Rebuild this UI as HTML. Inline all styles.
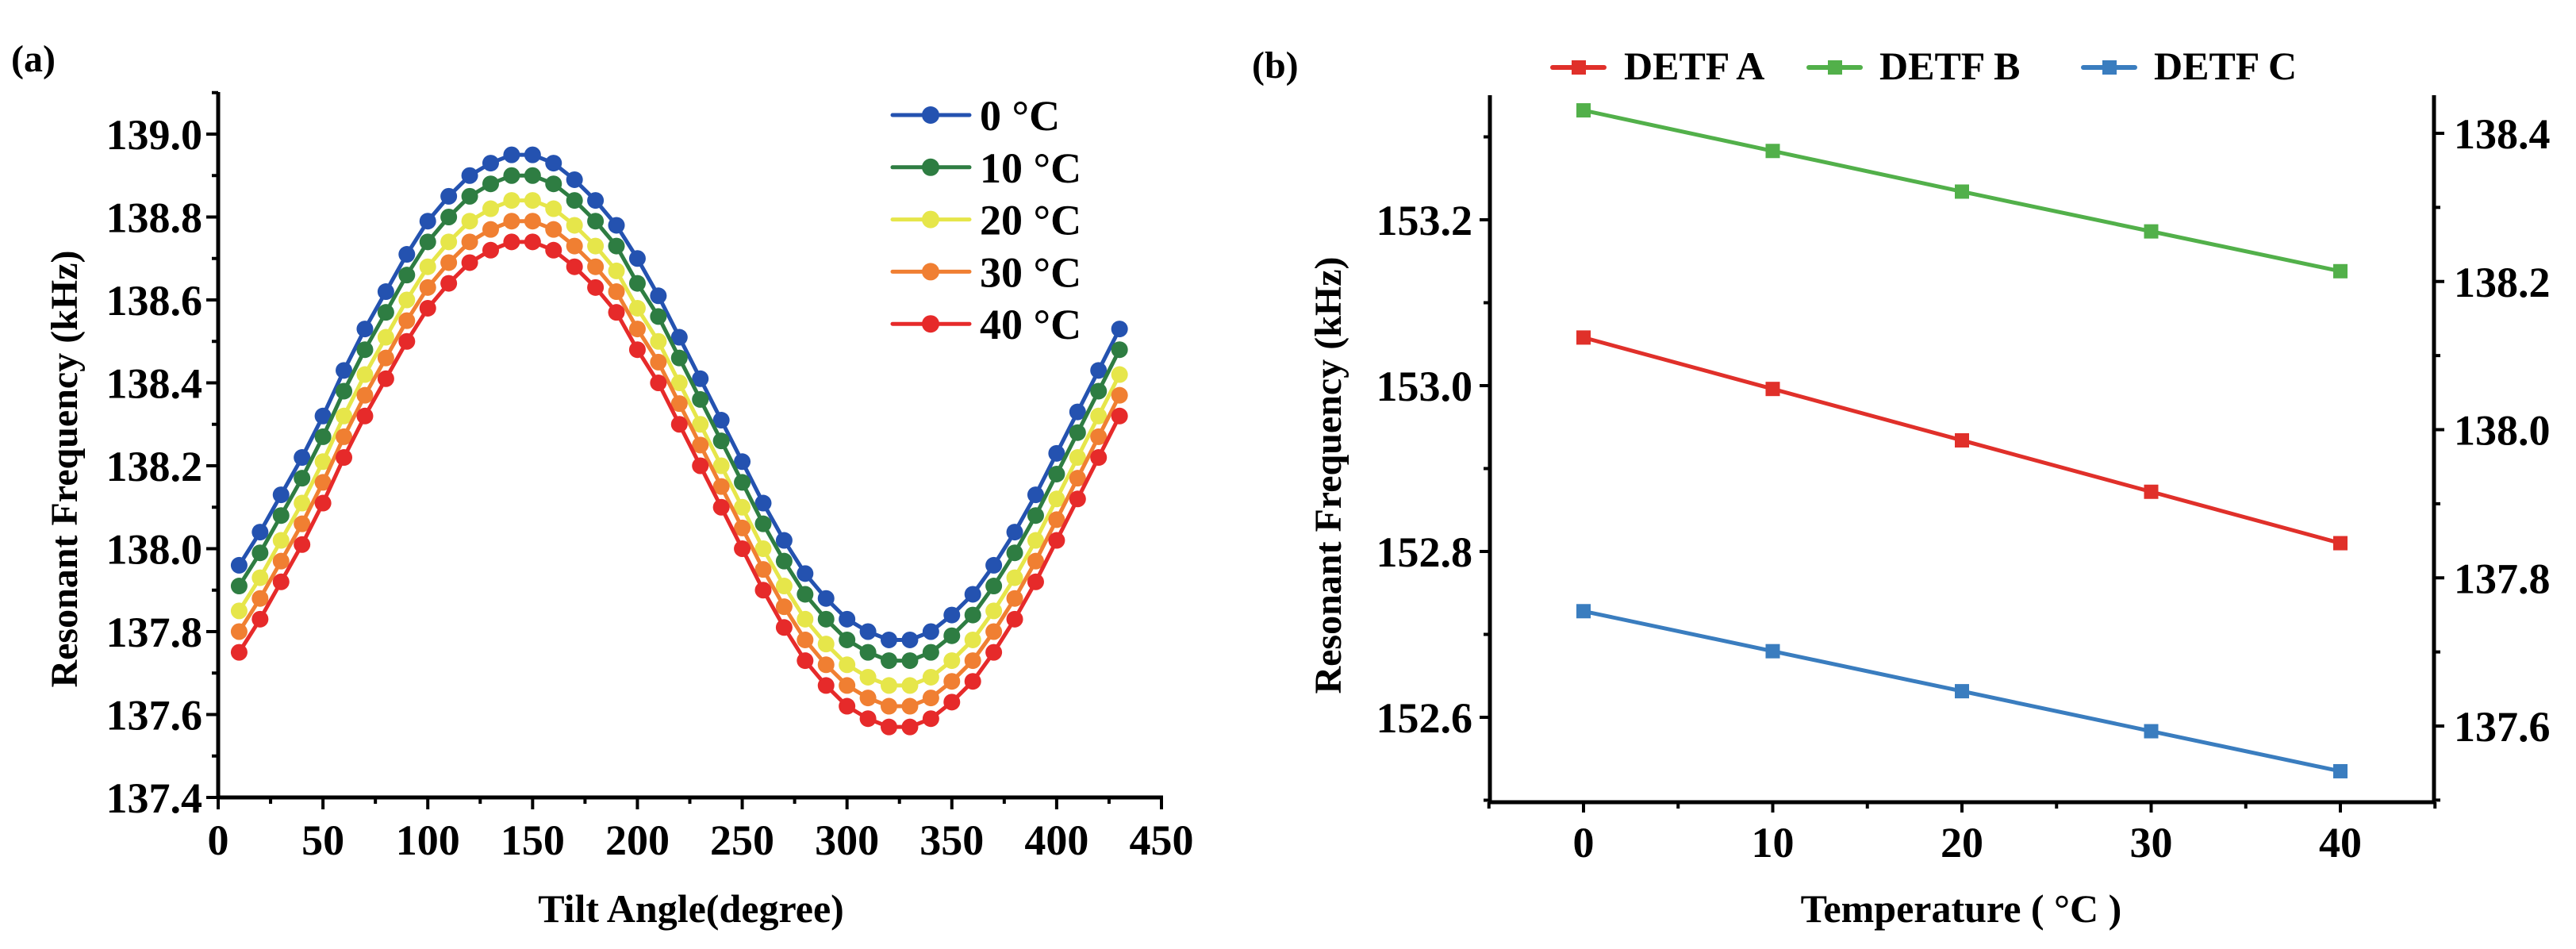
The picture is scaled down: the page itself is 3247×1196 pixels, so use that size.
<!DOCTYPE html>
<html><head><meta charset="utf-8"><style>
html,body{margin:0;padding:0;background:#fff;}
svg{display:block;}
text{font-family:"Liberation Serif",serif;font-weight:bold;fill:#000;}
</style></head><body>
<svg id="fig" width="3247" height="1196" viewBox="0 0 3247 1196" xmlns="http://www.w3.org/2000/svg">
<text x="14" y="90" font-size="48">(a)</text>
<text x="1578" y="98" font-size="48">(b)</text>
<g id="ga"></g>
<g id="gb"></g>
</svg>
<script>
const angles=[10,20,30,40,50,60,70,80,90,100,110,120,130,140,150,160,170,180,190,200,210,220,230,240,250,260,270,280,290,300,310,320,330,340,350,360,370,380,390,400,410,420,430];
const seriesNames=["0 °C","10 °C","20 °C","30 °C","40 °C"];
const s0=[137.96,138.04,138.13,138.22,138.32,138.43,138.53,138.62,138.71,138.79,138.85,138.90,138.93,138.95,138.95,138.93,138.89,138.84,138.78,138.70,138.61,138.51,138.41,138.31,138.21,138.11,138.02,137.94,137.88,137.83,137.80,137.78,137.78,137.80,137.84,137.89,137.96,138.04,138.13,138.23,138.33,138.43,138.53];
const s10=[137.91,137.99,138.08,138.17,138.27,138.38,138.48,138.57,138.66,138.74,138.80,138.85,138.88,138.90,138.90,138.88,138.84,138.79,138.73,138.64,138.56,138.46,138.36,138.26,138.16,138.06,137.97,137.89,137.83,137.78,137.75,137.73,137.73,137.75,137.79,137.84,137.91,137.99,138.08,138.18,138.28,138.38,138.48];
const s20=[137.85,137.93,138.02,138.11,138.21,138.32,138.42,138.51,138.60,138.68,138.74,138.79,138.82,138.84,138.84,138.82,138.78,138.73,138.67,138.58,138.50,138.40,138.30,138.20,138.10,138.00,137.91,137.83,137.77,137.72,137.69,137.67,137.67,137.69,137.73,137.78,137.85,137.93,138.02,138.12,138.22,138.32,138.42];
const s30=[137.80,137.88,137.97,138.06,138.16,138.27,138.37,138.46,138.55,138.63,138.69,138.74,138.77,138.79,138.79,138.77,138.73,138.68,138.62,138.53,138.45,138.35,138.25,138.15,138.05,137.95,137.86,137.78,137.72,137.67,137.64,137.62,137.62,137.64,137.68,137.73,137.80,137.88,137.97,138.07,138.17,138.27,138.37];
const s40=[137.75,137.83,137.92,138.01,138.11,138.22,138.32,138.41,138.50,138.58,138.64,138.69,138.72,138.74,138.74,138.72,138.68,138.63,138.57,138.48,138.40,138.30,138.20,138.10,138.00,137.90,137.81,137.73,137.67,137.62,137.59,137.57,137.57,137.59,137.63,137.68,137.75,137.83,137.92,138.02,138.12,138.22,138.32];
const xTicksA=[0,50,100,150,200,250,300,350,400,450];
const yTicksA=[137.4,137.6,137.8,138.0,138.2,138.4,138.6,138.8,139.0];

const temps=[0,10,20,30,40];
const detfA=[153.058,152.996,152.934,152.872,152.810];
const detfB=[153.332,153.283,153.234,153.186,153.138];
const detfC=[137.755,137.701,137.647,137.593,137.539];
const xTicksB=[0,10,20,30,40];
const yTicksBL=[152.6,152.8,153.0,153.2];
const yTicksBR=[137.6,137.8,138.0,138.2,138.4];

const NS="http://www.w3.org/2000/svg";
function mk(parent,tag,attrs){const e=document.createElementNS(NS,tag);for(const k in attrs)e.setAttribute(k,attrs[k]);parent.appendChild(e);return e;}

/* ---------- chart a ---------- */
const ga=document.getElementById('ga');
const xA=v=>275+(v-0)*(1464-275)/450;
const yA=v=>1005-(v-137.4)*(1005-169)/1.6;
const colorsA=["#2452b0","#2e7d42","#e6e64a","#f07f32","#e62a2a"];
const dataA=[s0,s10,s20,s30,s40];
dataA.forEach((s,i)=>{
  const g=mk(ga,'g',{});
  
  
  const pl=mk(g,'polyline',{points:s.map((v,j)=>xA(angles[j])+','+yA(v)).join(' '),fill:'none',stroke:colorsA[i],'stroke-width':5});
  
  
  s.forEach((v,j)=>{
    const c=mk(g,'circle',{cx:xA(angles[j]),cy:yA(v),r:10.5,fill:colorsA[i]});
    
    
  });
});
let ax=mk(ga,'line',{x1:275,y1:116,x2:275,y2:1007,stroke:'#000','stroke-width':5});


ax=mk(ga,'line',{x1:273,y1:1005,x2:1466,y2:1005,stroke:'#000','stroke-width':5});


xTicksA.forEach(t=>{
  mk(ga,'line',{x1:xA(t),y1:1005,x2:xA(t),y2:1020,stroke:'#000','stroke-width':4});
  const tx=mk(ga,'text',{x:xA(t),y:1077,'font-size':54,'text-anchor':'middle'});
  tx.textContent=t;
  
  
});
for(let t=25;t<450;t+=50){mk(ga,'line',{x1:xA(t),y1:1005,x2:xA(t),y2:1013,stroke:'#000','stroke-width':4});}
yTicksA.forEach(t=>{
  mk(ga,'line',{x1:260,y1:yA(t),x2:275,y2:yA(t),stroke:'#000','stroke-width':4});
  const tx=mk(ga,'text',{x:255,y:yA(t)+19,'font-size':54,'text-anchor':'end'});
  tx.textContent=t.toFixed(1);
  
  
});
for(let t=137.5;t<139.1;t+=0.2){mk(ga,'line',{x1:267,y1:yA(t),x2:275,y2:yA(t),stroke:'#000','stroke-width':4});}
let tt=mk(ga,'text',{x:0,y:0,'font-size':48,'text-anchor':'middle',transform:'translate(97,591) rotate(-90)'});
tt.textContent='Resonant Frequency (kHz)';


tt=mk(ga,'text',{x:871,y:1162,'font-size':50,'text-anchor':'middle'});
tt.textContent='Tilt Angle(degree)';


seriesNames.forEach((n,i)=>{
  const y=145+i*65.8;
  const g=mk(ga,'g',{});
  
  
  mk(g,'line',{x1:1125,y1:y,x2:1222,y2:y,stroke:colorsA[i],'stroke-width':5,'stroke-linecap':'round'});
  mk(g,'circle',{cx:1173,cy:y,r:11,fill:colorsA[i]});
  const tx=mk(g,'text',{x:1235,y:y+19,'font-size':54});
  tx.textContent=n;
});

/* ---------- chart b ---------- */
const gb=document.getElementById('gb');
const xB=v=>1996+(v-0)*(2950-1996)/40;
const yBL=v=>904-(v-152.6)*(904-277)/0.6;
const yBR=v=>915-(v-137.6)*(915-168)/0.8;
const colB={A:"#e0302a",B:"#52b04a",C:"#3a7dbf"};
[["A",detfA,yBL],["B",detfB,yBL],["C",detfC,yBR]].forEach(([k,s,yf])=>{
  const g=mk(gb,'g',{});
  
  
  mk(g,'polyline',{points:s.map((v,j)=>xB(temps[j])+','+yf(v)).join(' '),fill:'none',stroke:colB[k],'stroke-width':5});
  s.forEach((v,j)=>{
    const r=mk(g,'rect',{x:xB(temps[j])-9,y:yf(v)-9,width:18,height:18,fill:colB[k]});
    
    
  });
});
ax=mk(gb,'line',{x1:1878,y1:120,x2:1878,y2:1013,stroke:'#000','stroke-width':5});


ax=mk(gb,'line',{x1:3068,y1:120,x2:3068,y2:1013,stroke:'#000','stroke-width':5});


ax=mk(gb,'line',{x1:1876,y1:1011,x2:3070,y2:1011,stroke:'#000','stroke-width':5});


xTicksB.forEach(t=>{
  mk(gb,'line',{x1:xB(t),y1:1011,x2:xB(t),y2:1024,stroke:'#000','stroke-width':4});
  const tx=mk(gb,'text',{x:xB(t),y:1080,'font-size':54,'text-anchor':'middle'});
  tx.textContent=t;
  
  
});
for(let t=-5;t<=45;t+=10){mk(gb,'line',{x1:xB(t),y1:1011,x2:xB(t),y2:1019,stroke:'#000','stroke-width':4});}
yTicksBL.forEach(t=>{
  mk(gb,'line',{x1:1865,y1:yBL(t),x2:1878,y2:yBL(t),stroke:'#000','stroke-width':4});
  const tx=mk(gb,'text',{x:1856,y:yBL(t)+19,'font-size':54,'text-anchor':'end'});
  tx.textContent=t.toFixed(1);
  
  
});
[152.5,152.7,152.9,153.1,153.3].forEach(t=>mk(gb,'line',{x1:1870,y1:yBL(t),x2:1878,y2:yBL(t),stroke:'#000','stroke-width':4}));
yTicksBR.forEach(t=>{
  mk(gb,'line',{x1:3068,y1:yBR(t),x2:3081,y2:yBR(t),stroke:'#000','stroke-width':4});
  const tx=mk(gb,'text',{x:3093,y:yBR(t)+19,'font-size':54,'text-anchor':'start'});
  tx.textContent=t.toFixed(1);
  
  
});
[137.5,137.7,137.9,138.1,138.3].forEach(t=>mk(gb,'line',{x1:3068,y1:yBR(t),x2:3076,y2:yBR(t),stroke:'#000','stroke-width':4}));
tt=mk(gb,'text',{x:0,y:0,'font-size':48,'text-anchor':'middle',transform:'translate(1690,599) rotate(-90)'});
tt.textContent='Resonant Frequency (kHz)';


tt=mk(gb,'text',{x:2472,y:1162,'font-size':50,'text-anchor':'middle'});
tt.textContent='Temperature ( °C )';


[["DETF A",colB.A,1957,2047],["DETF B",colB.B,2280,2369],["DETF C",colB.C,2626,2715]].forEach(([n,c,lx,tx0])=>{
  const g=mk(gb,'g',{});
  
  
  mk(g,'line',{x1:lx,y1:85,x2:lx+65,y2:85,stroke:c,'stroke-width':6,'stroke-linecap':'round'});
  mk(g,'rect',{x:lx+24,y:76,width:18,height:18,fill:c});
  const tx=mk(g,'text',{x:tx0,y:100,'font-size':50});
  tx.textContent=n;
});
</script>
</body></html>
